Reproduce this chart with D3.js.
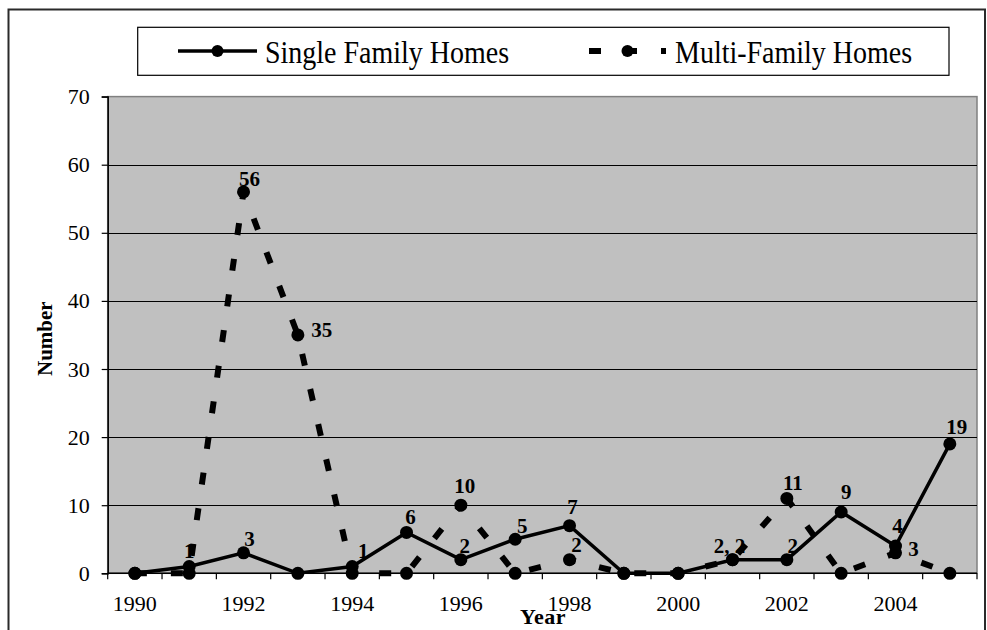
<!DOCTYPE html>
<html><head><meta charset="utf-8">
<script src="https://cdn.jsdelivr.net/npm/d3@7"></script>
<style>
html,body{margin:0;padding:0;background:#fff;}
svg{display:block;font-family:"Liberation Serif","Times New Roman",serif;}
</style>
</head><body>
<svg id="chart" width="987" height="630"></svg>
<script>
// ---- data ----
const years = [1990,1991,1992,1993,1994,1995,1996,1997,1998,1999,2000,2001,2002,2003,2004,2005];
const singleFamily = [0,1,3,0,1,6,2,5,7,0,0,2,2,9,4,19];
const multiFamily  = [0,0,56,35,0,0,10,0,2,0,0,2,11,0,3,0];
const seriesNames = ["Single Family Homes","Multi-Family Homes"];
const yTicks = [0,10,20,30,40,50,60,70];
const xTickLabels = [1990,1992,1994,1996,1998,2000,2002,2004];
const axisTitles = {x:"Year", y:"Number"};

// ---- layout (label nudges, px) ----
const labelNudge = {
  "s1991":[0,-8],"s1992":[6,-7],"s1994":[11,-8],"s1995":[4,-8],"s1996":[4,-7],
  "s1997":[7,-6],"s1998":[3,-12],"s2001":[-3,-7],"s2002":[6,-7],"s2003":[5,-13],
  "s2004":[2,-13],"s2005":[7,-10],
  "m1992":[6,-6],"m1993":[24,2],"m1996":[4,-12],"m1998":[7,-8],"m2002":[6,-8],"m2004":[18,3]
};

const svg = d3.select("#chart");
const plot = {left:107.7, right:977, top:96.6, bottom:573.3};

const x = d3.scaleBand().domain(years).range([plot.left, plot.right]).padding(0);
const cx = yr => x(yr) + x.bandwidth()/2;
const y = d3.scaleLinear().domain([0,70]).range([plot.bottom, plot.top]);

// outer frame
svg.append("rect").attr("x",8.5).attr("y",9.5).attr("width",976.5).attr("height",650)
  .attr("fill","#fff").attr("stroke","#2a2a2a").attr("stroke-width",2);

// plot area
svg.append("rect").attr("x",plot.left).attr("y",plot.top)
  .attr("width",plot.right-plot.left).attr("height",plot.bottom-plot.top)
  .attr("fill","#c0c0c0").attr("stroke","#808080").attr("stroke-width",1.5);

// gridlines
svg.append("g").selectAll("line").data(yTicks.filter(t=>t>0 && t<70)).join("line")
  .attr("x1",plot.left).attr("x2",plot.right)
  .attr("y1",d=>Math.round(y(d))+0.5).attr("y2",d=>Math.round(y(d))+0.5)
  .attr("stroke","#000").attr("stroke-width",1);

// y axis
const yAxis = svg.append("g").attr("transform",`translate(${plot.left},0)`)
  .call(d3.axisLeft(y).tickValues(yTicks).tickSize(6).tickPadding(12).tickFormat(d3.format("d")));
yAxis.select(".domain").attr("stroke","#000").attr("stroke-width",1.5);
yAxis.selectAll(".tick line").attr("stroke","#000").attr("stroke-width",1.2);
yAxis.selectAll(".tick text").attr("font-size",22).attr("font-family","Liberation Serif").attr("fill","#000");

// x axis
const xg = svg.append("g");
xg.append("line").attr("x1",plot.left).attr("x2",plot.right)
  .attr("y1",plot.bottom).attr("y2",plot.bottom).attr("stroke","#000").attr("stroke-width",1.5);
const bounds = years.map(yr=>x(yr)).concat([x(years[years.length-1])+x.bandwidth()]);
xg.selectAll("line.tk").data(bounds).join("line").attr("class","tk")
  .attr("x1",d=>d).attr("x2",d=>d).attr("y1",plot.bottom).attr("y2",plot.bottom+6)
  .attr("stroke","#000").attr("stroke-width",1.2);
xg.selectAll("text").data(xTickLabels).join("text")
  .attr("x",d=>cx(d)).attr("y",611).attr("text-anchor","middle")
  .attr("font-size",22).attr("fill","#000").text(d=>d);

// axis titles
svg.append("text").attr("x",543).attr("y",624).attr("text-anchor","middle")
  .attr("font-size",22).attr("font-weight","bold").attr("letter-spacing",0.5).text(axisTitles.x);
svg.append("text").attr("transform","translate(52,338.7) rotate(-90)").attr("text-anchor","middle")
  .attr("font-size",21).attr("font-weight","bold").text(axisTitles.y);

// series
const sData = years.map((yr,i)=>({yr, v:singleFamily[i]}));
const mData = years.map((yr,i)=>({yr, v:multiFamily[i]}));
const line = d3.line().x(d=>cx(d.yr)).y(d=>y(d.v));

svg.append("path").datum(sData).attr("d",line).attr("fill","none")
  .attr("stroke","#000").attr("stroke-width",3.5).attr("stroke-linejoin","miter");
svg.append("g").selectAll("circle").data(sData).join("circle")
  .attr("cx",d=>cx(d.yr)).attr("cy",d=>y(d.v)).attr("r",6.5).attr("fill","#000");

svg.append("path").datum(mData).attr("d",line).attr("fill","none")
  .attr("stroke","#000").attr("stroke-width",6).attr("stroke-dasharray","12,24");
svg.append("g").selectAll("circle").data(mData).join("circle")
  .attr("cx",d=>cx(d.yr)).attr("cy",d=>y(d.v)).attr("r",6.5).attr("fill","#000");

// data labels
const labels = [];
years.forEach((yr,i)=>{
  const s = singleFamily[i], m = multiFamily[i];
  if (s>0 && m>0 && s===m) { labels.push({yr, v:s, t:`${s}, ${m}`, k:"s"+yr}); return; }
  if (s>0) labels.push({yr, v:s, t:String(s), k:"s"+yr});
  if (m>0) labels.push({yr, v:m, t:String(m), k:"m"+yr});
});
svg.append("g").selectAll("text").data(labels).join("text")
  .attr("x",d=>cx(d.yr)+(labelNudge[d.k]||[5,-9])[0])
  .attr("y",d=>y(d.v)+(labelNudge[d.k]||[5,-9])[1])
  .attr("text-anchor","middle").attr("font-size",21).attr("font-weight","bold")
  .attr("fill","#000").text(d=>d.t);

// legend
const lg = svg.append("g");
lg.append("rect").attr("x",137.7).attr("y",27.3).attr("width",811.3).attr("height",48)
  .attr("fill","#fff").attr("stroke","#000").attr("stroke-width",1.2);
const legendItems = [
  {name:seriesNames[0], x1:178, x2:257, tx:265, w:3.5, dash:null},
  {name:seriesNames[1], x1:589, x2:666, tx:675, w:6, dash:"12,24"}
];
legendItems.forEach(it=>{
  const l = lg.append("line").attr("x1",it.x1).attr("x2",it.x2).attr("y1",51).attr("y2",51)
    .attr("stroke","#000").attr("stroke-width",it.w);
  if (it.dash) l.attr("stroke-dasharray",it.dash);
  lg.append("circle").attr("cx",(it.x1+it.x2)/2).attr("cy",51).attr("r",6).attr("fill","#000");
  lg.append("text").attr("transform",`translate(${it.tx},63) scale(1,1.1)`)
    .attr("font-size",28).attr("fill","#000").text(it.name);
});
</script>
</body></html>
